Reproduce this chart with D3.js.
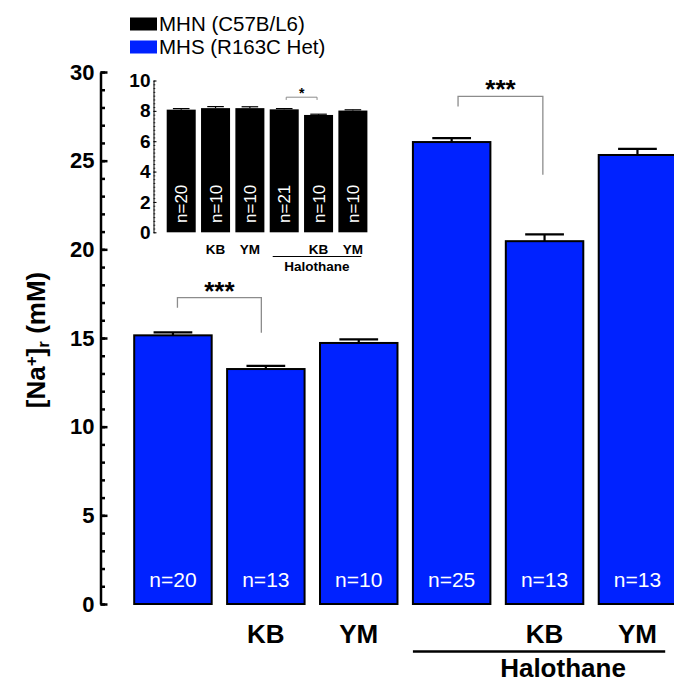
<!DOCTYPE html>
<html>
<head>
<meta charset="utf-8">
<script src="https://cdn.jsdelivr.net/npm/d3@7"></script>
<style>
  body { margin: 0; background: #fff; }
  svg { display: block; font-family: "Liberation Sans", Arial, sans-serif; }
</style>
</head>
<body>
<div class="chart"></div>
<script>
// groups in the order they are plotted
var categories = ["Control", "KB", "YM", "Halothane", "Halothane + KB", "Halothane + YM"];
var tickLabels = ["", "KB", "YM", "", "KB", "YM"];

// MHS (R163C Het), main panel
var mhsValues = [15.15, 13.25, 14.72, 26.05, 20.46, 25.32];
var mhsErr = [0.17, 0.18, 0.2, 0.22, 0.38, 0.35];
var mhsN = [20, 13, 10, 25, 13, 13];

// MHN (C57B/L6), inset
var mhnValues = [8.08, 8.18, 8.18, 8.1, 7.73, 8.02];
var mhnErr = [0.07, 0.1, 0.09, 0.05, 0.05, 0.05];
var mhnN = [20, 10, 10, 21, 10, 10];

var legendLabels = ["MHN (C57B/L6)", "MHS (R163C Het)"];
var legendColors = ["#000000", "#0022ff"];

var svgWidth = 674;
var svgHeight = 688;

var svg = d3.select(".chart")
  .append("svg")
  .attr("width", svgWidth)
  .attr("height", svgHeight);

// ---------- main panel ----------
var x = d3.scaleBand()
  .domain(categories)
  .range([134.2, 676.2])
  .paddingInner(0.166)
  .paddingOuter(0)
  .align(0);

var y = d3.scaleLinear()
  .domain([0, 30])
  .range([604, 72]);

var axisX = 100.5;

// minor ticks every 1
svg.append("g")
  .attr("transform", `translate(${axisX},0)`)
  .call(d3.axisLeft(y).tickValues(d3.range(0, 31, 1)).tickSizeInner(-4.5).tickSizeOuter(0).tickFormat(""))
  .call(g => g.selectAll("line").attr("stroke-width", 2.5))
  .call(g => g.select(".domain").attr("stroke-width", 2.5));

// major ticks every 5 with labels
svg.append("g")
  .attr("transform", `translate(${axisX},0)`)
  .call(d3.axisLeft(y).tickValues(d3.range(0, 31, 5)).tickSizeInner(-7).tickSizeOuter(0).tickPadding(6))
  .call(g => g.select(".domain").remove())
  .call(g => g.selectAll("line").attr("stroke-width", 2.5))
  .call(g => g.selectAll("text")
    .attr("font-size", 22)
    .attr("font-weight", "bold")
    .attr("font-family", "Liberation Sans, Arial, sans-serif")
    .attr("fill", "#000"));

// y axis title
var yTitle = svg.append("text")
  .attr("transform", "translate(45,340) rotate(-90)")
  .attr("text-anchor", "middle")
  .attr("font-size", 26)
  .attr("font-weight", "bold");
yTitle.append("tspan").text("[Na");
yTitle.append("tspan").attr("font-size", 17).attr("baseline-shift", "45%").text("+");
yTitle.append("tspan").text("]");
yTitle.append("tspan").attr("font-size", 17).attr("baseline-shift", "-25%").text("r");
yTitle.append("tspan").text(" (mM)");

// bars
var mainData = categories.map((c, i) => ({ cat: c, value: mhsValues[i], err: mhsErr[i], n: mhsN[i] }));

svg.selectAll(".mainBar")
  .data(mainData)
  .enter()
  .append("rect")
  .attr("class", "mainBar")
  .attr("x", d => x(d.cat))
  .attr("y", d => y(d.value))
  .attr("width", x.bandwidth())
  .attr("height", d => y(0) - y(d.value))
  .attr("fill", legendColors[1])
  .attr("stroke", "#000")
  .attr("stroke-width", 2);

// error bars
var errG = svg.append("g").attr("stroke", "#000").attr("stroke-width", 2.2);
mainData.forEach(function(d) {
  var cx = x(d.cat) + x.bandwidth() / 2;
  errG.append("line")
    .attr("x1", cx).attr("x2", cx)
    .attr("y1", y(d.value)).attr("y2", y(d.value + d.err));
  errG.append("line")
    .attr("x1", cx - x.bandwidth() / 4).attr("x2", cx + x.bandwidth() / 4)
    .attr("y1", y(d.value + d.err)).attr("y2", y(d.value + d.err));
});

// n labels
svg.selectAll(".mainN")
  .data(mainData)
  .enter()
  .append("text")
  .attr("class", "mainN")
  .attr("x", d => x(d.cat) + x.bandwidth() / 2)
  .attr("y", 587)
  .attr("text-anchor", "middle")
  .attr("font-size", 21)
  .attr("fill", "#fff")
  .text(d => "n=" + d.n);

// category labels
svg.selectAll(".mainLabel")
  .data(categories)
  .enter()
  .append("text")
  .attr("class", "mainLabel")
  .attr("x", d => x(d) + x.bandwidth() / 2)
  .attr("y", 643)
  .attr("text-anchor", "middle")
  .attr("font-size", 26)
  .attr("font-weight", "bold")
  .text((d, i) => tickLabels[i]);

svg.append("line")
  .attr("x1", x(categories[3])).attr("x2", x(categories[5]) + x.bandwidth() - 11)
  .attr("y1", 651.5).attr("y2", 651.5)
  .attr("stroke", "#000").attr("stroke-width", 2.5);

svg.append("text")
  .attr("x", 563)
  .attr("y", 677)
  .attr("text-anchor", "middle")
  .attr("font-size", 26)
  .attr("font-weight", "bold")
  .text("Halothane");

// significance brackets
function bracket(scaleX, scaleY, a, b, top, leftEnd, rightEnd, offA, offB, label, size, width) {
  var xa = scaleX(categories[a]) + scaleX.bandwidth() / 2 + offA;
  var xb = scaleX(categories[b]) + scaleX.bandwidth() / 2 + offB;
  svg.append("path")
    .attr("d", `M${xa},${scaleY(leftEnd)}V${scaleY(top)}H${xb}V${scaleY(rightEnd)}`)
    .attr("fill", "none")
    .attr("stroke", "#8c8c8c")
    .attr("stroke-width", width);
  svg.append("text")
    .attr("x", (xa + xb) / 2)
    .attr("y", scaleY(top) + size * 0.08)
    .attr("text-anchor", "middle")
    .attr("font-size", size)
    .attr("font-weight", "bold")
    .text(label);
}

bracket(x, y, 0, 1, 17.28, 16.7, 15.3, 4.5, -4.5, "***", 26, 1.3);
bracket(x, y, 3, 4, 28.63, 28.05, 24.2, 6.4, -1.7, "***", 26, 1.3);

// ---------- inset ----------
var xi = d3.scaleBand()
  .domain(categories)
  .range([166.7, 367.4])
  .paddingInner(0.155)
  .paddingOuter(0)
  .align(0);

var yi = d3.scaleLinear()
  .domain([0, 10])
  .range([232.3, 80.5]);

var insetAxisX = 153.5;

svg.append("g")
  .attr("transform", `translate(${insetAxisX},0)`)
  .call(d3.axisLeft(yi).tickValues(d3.range(0, 10.01, 0.25)).tickSizeInner(-1.8).tickSizeOuter(0).tickFormat(""))
  .call(g => g.selectAll("line").attr("stroke-width", 0.8))
  .call(g => g.select(".domain").attr("stroke-width", 1));

svg.append("g")
  .attr("transform", `translate(${insetAxisX},0)`)
  .call(d3.axisLeft(yi).tickValues(d3.range(0, 11, 2)).tickSizeInner(-3).tickSizeOuter(0).tickPadding(3))
  .call(g => g.select(".domain").remove())
  .call(g => g.selectAll("line").attr("stroke-width", 1))
  .call(g => g.selectAll("text")
    .attr("font-size", 19)
    .attr("font-weight", "bold")
    .attr("font-family", "Liberation Sans, Arial, sans-serif")
    .attr("fill", "#000"));

var insetData = categories.map((c, i) => ({ cat: c, value: mhnValues[i], err: mhnErr[i], n: mhnN[i] }));

svg.selectAll(".insetBar")
  .data(insetData)
  .enter()
  .append("rect")
  .attr("class", "insetBar")
  .attr("x", d => xi(d.cat))
  .attr("y", d => yi(d.value))
  .attr("width", xi.bandwidth())
  .attr("height", d => yi(0) - yi(d.value))
  .attr("fill", legendColors[0]);

var errI = svg.append("g").attr("stroke", "#000").attr("stroke-width", 1.2);
insetData.forEach(function(d) {
  var cx = xi(d.cat) + xi.bandwidth() / 2;
  errI.append("line")
    .attr("x1", cx).attr("x2", cx)
    .attr("y1", yi(d.value)).attr("y2", yi(d.value + d.err));
  errI.append("line")
    .attr("x1", cx - xi.bandwidth() / 3.5).attr("x2", cx + xi.bandwidth() / 3.5)
    .attr("y1", yi(d.value + d.err)).attr("y2", yi(d.value + d.err));
});

svg.selectAll(".insetN")
  .data(insetData)
  .enter()
  .append("text")
  .attr("class", "insetN")
  .attr("transform", d => `translate(${xi(d.cat) + xi.bandwidth() / 2},223) rotate(-90)`)
  .attr("dy", "0.36em")
  .attr("font-size", 17)
  .attr("fill", "#fff")
  .text(d => "n=" + d.n);

svg.selectAll(".insetLabel")
  .data(categories)
  .enter()
  .append("text")
  .attr("class", "insetLabel")
  .attr("x", d => xi(d) + xi.bandwidth() / 2)
  .attr("y", 253.5)
  .attr("text-anchor", "middle")
  .attr("font-size", 13.5)
  .attr("font-weight", "bold")
  .text((d, i) => tickLabels[i]);

svg.append("line")
  .attr("x1", xi(categories[3]) + 3).attr("x2", xi(categories[5]) + xi.bandwidth() - 6)
  .attr("y1", 256.5).attr("y2", 256.5)
  .attr("stroke", "#000").attr("stroke-width", 1);

svg.append("text")
  .attr("x", 317)
  .attr("y", 271)
  .attr("text-anchor", "middle")
  .attr("font-size", 13.5)
  .attr("font-weight", "bold")
  .text("Halothane");

bracket(xi, yi, 3, 4, 8.9, 8.72, 8.72, 2, -1.5, "*", 14, 1);

// ---------- legend ----------
var legend = svg.append("g");
legendLabels.forEach(function(label, i) {
  legend.append("rect")
    .attr("x", 130)
    .attr("y", 17.5 + i * 23)
    .attr("width", 27)
    .attr("height", 13)
    .attr("fill", legendColors[i]);
  legend.append("text")
    .attr("x", 159)
    .attr("y", 30.7 + i * 22.8)
    .attr("font-size", 20.5)
    .text(label);
});
</script>
</body>
</html>
